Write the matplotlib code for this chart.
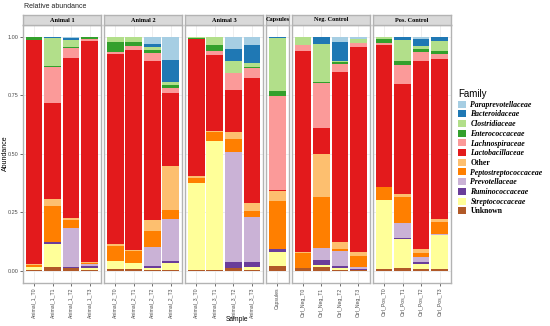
import matplotlib.pyplot as plt
from matplotlib.patches import Patch

# samples, grouped into facets
groups = ['Animal 1', 'Animal 2', 'Animal 3', 'Capsules', 'Neg. Control', 'Pos. Control']
group_sizes = [4, 4, 4, 1, 4, 4]
samples = ['Animal_1_T0', 'Animal_1_T1', 'Animal_1_T2', 'Animal_1_T3',
           'Animal_2_T0', 'Animal_2_T1', 'Animal_2_T2', 'Animal_2_T3',
           'Animal_3_T0', 'Animal_3_T1', 'Animal_3_T2', 'Animal_3_T3',
           'Capsules',
           'Ctrl_Neg_T0', 'Ctrl_Neg_T1', 'Ctrl_Neg_T2', 'Ctrl_Neg_T3',
           'Ctrl_Pos_T0', 'Ctrl_Pos_T1', 'Ctrl_Pos_T2', 'Ctrl_Pos_T3']

# relative abundance per family (one value per sample, same order as samples)
unknown = [0.004, 0.015, 0.010, 0.004, 0.007, 0.007, 0.005, 0.005, 0.005, 0.005, 0.011, 0.004,
           0.021, 0.012, 0.017, 0.003, 0.004, 0.006, 0.011, 0.006, 0.006]
strepto = [0.012, 0.100, 0.002, 0.010, 0.033, 0.028, 0.007, 0.028, 0.370, 0.550, 0.003, 0.011,
           0.061, 0.000, 0.008, 0.008, 0.000, 0.297, 0.123, 0.024, 0.148]
rumino = [0.0, 0.007, 0.003, 0.008, 0.0, 0.0, 0.010, 0.010, 0.0, 0.0, 0.024, 0.021,
          0.010, 0.0, 0.020, 0.010, 0.002, 0.0, 0.007, 0.007, 0.0]
prevo = [0.0, 0.003, 0.167, 0.005, 0.0, 0.0, 0.080, 0.180, 0.0, 0.0, 0.468, 0.195,
         0.003, 0.002, 0.054, 0.064, 0.010, 0.0, 0.063, 0.023, 0.003]
pepto = [0.010, 0.150, 0.035, 0.008, 0.066, 0.049, 0.068, 0.035, 0.021, 0.038, 0.057, 0.024,
         0.205, 0.060, 0.218, 0.010, 0.049, 0.054, 0.110, 0.017, 0.052]
other = [0.004, 0.030, 0.007, 0.004, 0.007, 0.004, 0.047, 0.188, 0.007, 0.004, 0.028, 0.036,
         0.042, 0.006, 0.181, 0.028, 0.014, 0.003, 0.014, 0.017, 0.011]
lacto = [0.955, 0.410, 0.686, 0.943, 0.814, 0.856, 0.680, 0.313, 0.587, 0.323, 0.181, 0.532,
         0.005, 0.860, 0.113, 0.726, 0.875, 0.605, 0.469, 0.801, 0.683]
lachno = [0.003, 0.155, 0.042, 0.010, 0.008, 0.018, 0.035, 0.024, 0.0, 0.020, 0.073, 0.042,
          0.401, 0.025, 0.193, 0.034, 0.018, 0.007, 0.082, 0.040, 0.025]
entero = [0.010, 0.004, 0.002, 0.007, 0.042, 0.014, 0.010, 0.011, 0.005, 0.025, 0.0, 0.006,
          0.021, 0.0, 0.004, 0.008, 0.0, 0.018, 0.018, 0.014, 0.011]
clostr = [0.002, 0.120, 0.030, 0.001, 0.023, 0.024, 0.015, 0.014, 0.005, 0.035, 0.050, 0.015,
          0.225, 0.035, 0.161, 0.006, 0.018, 0.010, 0.091, 0.010, 0.041]
bactero = [0.0, 0.006, 0.010, 0.0, 0.0, 0.0, 0.010, 0.092, 0.0, 0.0, 0.052, 0.080,
           0.006, 0.0, 0.028, 0.079, 0.002, 0.0, 0.010, 0.031, 0.020]
paraprev = [0.0, 0.0, 0.006, 0.0, 0.0, 0.0, 0.033, 0.100, 0.0, 0.0, 0.053, 0.034,
            0.0, 0.0, 0.003, 0.024, 0.008, 0.0, 0.002, 0.010, 0.0]

# legend order (top to bottom); stacking goes the other way
families = ['Paraprevotellaceae', 'Bacteroidaceae', 'Clostridiaceae', 'Enterococcaceae',
            'Lachnospiraceae', 'Lactobacillaceae', 'Other', 'Peptostreptococcaceae',
            'Prevotellaceae', 'Ruminococcaceae', 'Streptococcaceae', 'Unknown']
values = [paraprev, bactero, clostr, entero, lachno, lacto, other, pepto,
          prevo, rumino, strepto, unknown]
colors = ['#a6cee3', '#1f78b4', '#b2df8a', '#33a02c', '#fb9a99', '#e31a1c',
          '#fdbf6f', '#ff7f00', '#cab2d6', '#6a3d9a', '#ffff99', '#b15928']

W, H = 550, 326
fig = plt.figure(figsize=(W / 100, H / 100), dpi=100)

sans = 'Liberation Sans'
serif = 'Liberation Serif'

left, right = 23, 450.7
top, bottom = 25, 282.5
strip_h = 10
gap = 3.3
units = [n + 0.2 for n in group_sizes]
unit_px = (right - left - gap * (len(groups) - 1)) / sum(units)

x0 = left
start = 0
for gi, (g, n) in enumerate(zip(groups, group_sizes)):
    w = units[gi] * unit_px
    ax = fig.add_axes([x0 / W, 1 - bottom / H, w / W, (bottom - top) / H])
    idx = list(range(start, start + n))
    pos = list(range(n))
    base = [0.0] * n
    for fam, vals, col in zip(families[::-1], values[::-1], colors[::-1]):
        seg = [vals[i] for i in idx]
        ax.bar(pos, seg, bottom=base, width=0.9, color=col, linewidth=0, zorder=3)
        base = [b + s for b, s in zip(base, seg)]
    ax.set_xlim(-0.6, n - 0.4)
    ax.set_ylim(-0.05, 1.05)
    ax.set_xticks(pos)
    ax.set_xticklabels([samples[i] for i in idx], rotation=90, fontsize=3.7,
                       color='#4d4d4d', family=sans)
    ax.set_yticks([0, 0.25, 0.5, 0.75, 1.0])
    ax.grid(True, color='#ebebeb', linewidth=0.6, zorder=0)
    ax.tick_params(length=2, width=0.5, color='#333333', pad=1.5)
    if gi == 0:
        ax.set_yticklabels(['0.00', '0.25', '0.50', '0.75', '1.00'], fontsize=4,
                           color='#4d4d4d', family=sans)
    else:
        ax.tick_params(axis='y', length=0, labelleft=False)
    for sp in ax.spines.values():
        sp.set_color('#b3b3b3')
        sp.set_linewidth(1.0)

    # facet strip
    sax = fig.add_axes([x0 / W, 1 - top / H, w / W, strip_h / H])
    sax.set_facecolor('#d9d9d9')
    sax.set_xticks([])
    sax.set_yticks([])
    for sp in sax.spines.values():
        sp.set_color('#b3b3b3')
        sp.set_linewidth(1.0)
    sax.text(0.5, 0.5, g, ha='center', va='center', fontsize=4.5,
             fontweight='bold', family=serif, transform=sax.transAxes)

    x0 += w + gap
    start += n

fig.text(24 / W, 1 - 6.5 / H, 'Relative abundance', fontsize=5.0, family=sans,
         va='center', ha='left', color='#222222')
fig.text(5 / W, 1 - 153 / H, 'Abundance', fontsize=5, family=sans, rotation=90,
         va='center', ha='center')
fig.text((left + right) / 2 / W, 1 - 319.5 / H, 'Sample', fontsize=4.8, family=sans,
         va='center', ha='center')

handles = [Patch(facecolor=c, edgecolor='none') for c in colors]
leg = fig.legend(handles, families, loc='upper left',
                 bbox_to_anchor=(458 / W, 1 - 89 / H), frameon=False,
                 title='Family', alignment='left',
                 prop={'family': serif, 'size': 5.6, 'style': 'italic', 'weight': 'bold'},
                 title_fontproperties={'family': sans, 'size': 7},
                 handlelength=1.0, handleheight=1.0, handletextpad=0.6,
                 labelspacing=0.2, borderpad=0, borderaxespad=0)
for t in leg.get_texts():
    if t.get_text() in ('Other', 'Unknown'):
        t.set_style('normal')

fig.savefig('out.png', dpi=100)
